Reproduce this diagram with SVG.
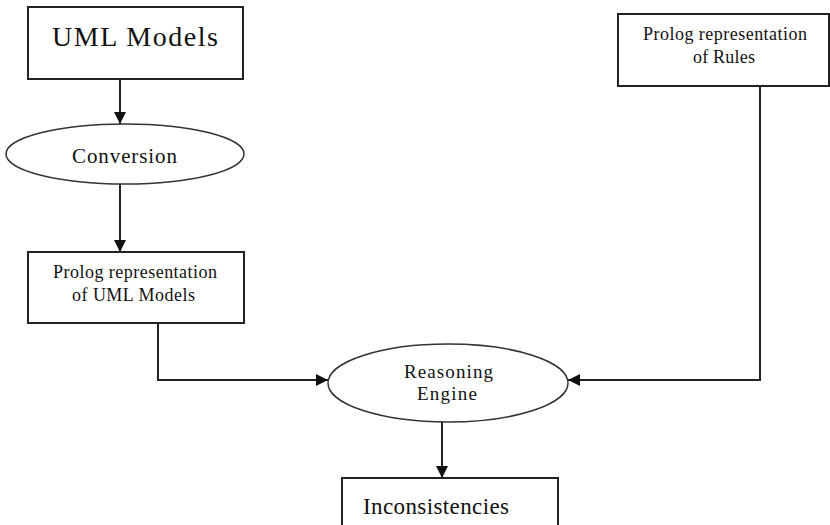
<svg xmlns="http://www.w3.org/2000/svg" width="830" height="525" viewBox="0 0 830 525">
<style>
.box{fill:#fff;stroke:#222;stroke-width:2}
.ell{fill:#fff;stroke:#333;stroke-width:1.5}
.t{font-family:"Liberation Serif","Times New Roman",serif;fill:#111}
.c{fill:none;stroke:#222;stroke-width:2}
</style>
<defs>
<marker id="ah" viewBox="0 0 12 12" refX="12" refY="6" markerWidth="12" markerHeight="12" markerUnits="userSpaceOnUse" orient="auto">
<path d="M0,0 L12,6 L0,12 Z" fill="#111"/>
</marker>
</defs>
<g id="connectors">
<line class="c" x1="120" y1="79" x2="120" y2="124" marker-end="url(#ah)"/>
<line class="c" x1="120" y1="184" x2="120" y2="252" marker-end="url(#ah)"/>
<polyline class="c" points="158,323 158,380 328,380" marker-end="url(#ah)"/>
<polyline class="c" points="760,86 760,380 568,380" marker-end="url(#ah)"/>
<line class="c" x1="442" y1="422" x2="442" y2="478" marker-end="url(#ah)"/>
</g>
<g id="uml-models">
<rect class="box" x="28" y="7" width="215" height="72"/>
<text class="t" x="52" y="46" font-size="28" textLength="166" lengthAdjust="spacing">UML Models</text>
</g>
<g id="conversion">
<ellipse class="ell" cx="125" cy="154" rx="119" ry="30"/>
<text class="t" x="72" y="163" font-size="21" textLength="105" lengthAdjust="spacing">Conversion</text>
</g>
<g id="prolog-uml">
<rect class="box" x="28" y="252" width="216" height="71"/>
<text class="t" x="53" y="278" font-size="18" textLength="164" lengthAdjust="spacing">Prolog representation</text>
<text class="t" x="72" y="301" font-size="18" textLength="123" lengthAdjust="spacing">of UML Models</text>
</g>
<g id="prolog-rules">
<rect class="box" x="618" y="14" width="211" height="72"/>
<text class="t" x="643" y="40" font-size="18" textLength="164" lengthAdjust="spacing">Prolog representation</text>
<text class="t" x="693" y="63" font-size="18" textLength="62" lengthAdjust="spacing">of Rules</text>
</g>
<g id="reasoning-engine">
<ellipse class="ell" cx="448" cy="383" rx="120" ry="39"/>
<text class="t" x="404" y="378" font-size="19" textLength="89" lengthAdjust="spacing">Reasoning</text>
<text class="t" x="417" y="400" font-size="19" textLength="60" lengthAdjust="spacing">Engine</text>
</g>
<g id="inconsistencies">
<rect class="box" x="342" y="478" width="216" height="60"/>
<text class="t" x="363" y="514" font-size="23" textLength="146" lengthAdjust="spacing">Inconsistencies</text>
</g>
</svg>
